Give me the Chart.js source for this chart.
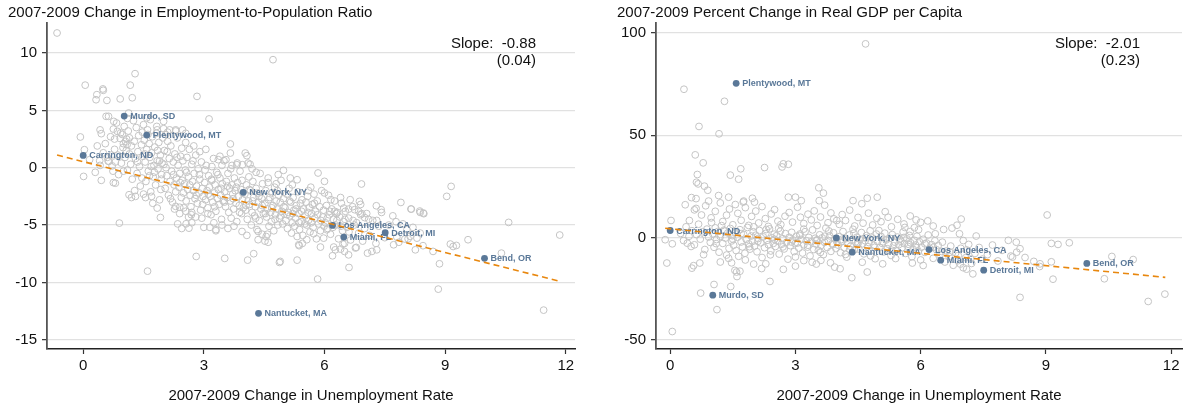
<!DOCTYPE html>
<html><head><meta charset="utf-8">
<script src="https://cdn.jsdelivr.net/npm/chart.js@4/dist/chart.umd.min.js"></script>
<style>
html,body{margin:0;padding:0;background:#fff;width:1187px;height:411px;overflow:hidden;}
#c1{position:absolute;left:0;top:0;}
#c2{position:absolute;left:590px;top:0;}
</style></head>
<body>
<canvas id="c1" width="590" height="411"></canvas>
<canvas id="c2" width="597" height="411"></canvas>
<script>
// ---------- DATA ----------
const leftTitle = "2007-2009 Change in Employment-to-Population Ratio";
const rightTitle = "2007-2009 Percent Change in Real GDP per Capita";
const xAxisTitle = "2007-2009 Change in Unemployment Rate";
const leftSlope = ["Slope:  -0.88", "(0.04)"];
const rightSlope = ["Slope:  -2.01", "(0.23)"];
const xTicks = [0, 3, 6, 9, 12];
const leftYTicks = [10, 5, 0, -5, -10, -15];
const rightYTicks = [100, 50, 0, -50];

const cityNames = ["Carrington, ND","Murdo, SD","Plentywood, MT","New York, NY","Nantucket, MA","Los Angeles, CA","Miami, FL","Detroit, MI","Bend, OR"];
const cityUnemp = [0.0, 1.02, 1.58, 3.98, 4.36, 6.2, 6.48, 7.51, 9.98];
const cityEmp   = [1.07, 4.5, 2.85, -2.15, -12.7, -5.03, -6.05, -5.67, -7.9];
const cityGdp   = [3.4, -28.2, 75.4, -0.2, -7.2, -5.9, -11.1, -16.0, -12.7];

const leftFit  = [[-0.65, 1.1], [11.85, -9.9]];
const rightFit = [[-0.12, 4.5], [11.86, -19.5]];

const leftGray = [
[-0.65,11.75],[4.72,9.42],[0.05,7.2],[1.29,8.2],[1.17,7.2],[0.49,6.87],[0.5,6.75],[0.34,6.37],[0.32,5.93],[0.59,5.87],[0.92,6.0],[1.22,6.1],[2.83,6.22],[3.13,4.25],[-0.07,2.68],[0.01,-0.76],[0.57,4.48],[0.63,4.48],[1.13,4.77],[0.42,3.3],[0.45,2.97],[0.75,3.37],[0.78,2.5],[0.92,2.55],[1.0,2.1],[1.05,2.3],
[1.5,3.75],[1.83,3.6],[2.0,4.04],[2.15,3.3],[2.3,3.3],[3.66,2.07],[3.66,1.28],[4.03,1.28],[4.07,1.05],[3.82,0.26],[4.98,-0.23],[5.32,-1.05],[0.75,-1.3],[0.8,-1.35],[0.16,0.7],[0.41,0.6],[0.62,0.58],[0.8,0.5],
[0.9,-4.83],[1.92,-4.34],[1.6,-9.02],[2.81,-7.74],[3.52,-7.91],[4.09,-8.06],[4.24,-7.5],[4.88,-8.26],[5.32,-8.06],
[2.35,-4.9],[2.45,-5.3],[2.7,-4.8],[3.0,-5.2],[3.3,-5.4],[3.95,-5.56],[4.07,-5.9],[4.35,-6.28],[4.35,-5.56],[4.52,-6.4],[4.55,-6.0],[4.58,-5.8],
[2.4,-4.0],[2.55,-3.8],[2.7,-3.9],
[9.15,-1.63],[9.04,-2.5],[6.92,-1.42],[6.0,-1.19],[5.84,-0.46],
[10.58,-4.77],[11.85,-5.87],[11.45,-12.42],[8.83,-10.59],[8.86,-8.38],[10.4,-7.45],[9.57,-6.28],[9.13,-6.66],[9.2,-6.87],[9.28,-6.78],[8.7,-7.3],[8.26,-7.16],[8.38,-3.9],[8.47,-4.01],[8.15,-3.6],[7.9,-3.03],[6.87,-2.94],[6.61,-8.7],[5.83,-9.71],
[6.2,-7.68],[6.4,-7.1],[6.5,-7.3],[6.6,-7.6],[6.79,-6.95],[7.07,-7.45],[7.18,-7.3],[7.3,-7.16],[7.72,-6.72],[8.0,-6.22],[8.08,-6.2],[8.3,-6.14],[5.36,-6.72],[5.56,-6.28],[4.9,-8.17],
[6.64,-2.79],[6.16,-2.79],[7.29,-3.32],[7.41,-3.66],[8.37,-3.78],[8.46,-3.95],[8.16,-3.61],[7.78,-4.71],[8.05,-5.41],[8.13,-5.99],[8.38,-5.7],[7.8,-6.05],
[6.23,-6.92],[6.27,-7.16],[6.46,-6.66],[6.5,-6.6],[5.9,-6.92],[5.73,-5.76],[5.98,-6.14],[6.06,-5.41],[6.77,-7.0],
[6.9,-4.1],[7.0,-4.35],[7.1,-4.5],[7.3,-4.6],[6.75,-3.66],[6.85,-3.81],[6.93,-4.01],[6.48,-3.52],[6.6,-3.61],[6.25,-3.8],[6.3,-4.0],
[0.03,1.57],[0.76,4.04],[0.85,3.17],[0.93,3.03],[1.08,2.5],[1.09,2.0],[1.58,4.34],[1.67,4.19],
[1.84,3.3],[2.0,3.4],[2.1,3.1],[2.3,3.2],[2.47,3.3],[2.55,3.0],
[3.36,0.7],[3.5,0.61],[3.83,0.41],[3.96,0.26],[4.1,0.4],[4.2,-0.1],
[1.14,-2.36],[1.2,-2.6],[1.3,-2.5],[1.5,-2.3],[1.7,-2.5],[1.84,-3.52],[2.3,-3.37],[2.4,-3.45],[2.5,-3.5],[2.56,-4.89],[2.63,-5.27],[5.37,-6.8],[3.15,-5.2],[3.3,-5.5],[3.45,-5.0],[3.6,-5.3],
[2.69,-4.1],[2.8,-4.3],[3.1,-4.0],
[0.35,1.9],[0.42,0.2],[0.5,1.3],[0.55,2.1],[0.6,0.9],[0.64,0.55],[0.68,2.7],[0.72,0.16],[0.74,-0.3],[0.78,1.6],[0.83,3.9],[0.86,1.1],[0.88,-0.6],[0.95,0.4],[0.97,2.9],[0.99,1.75],[0.3,-0.4],[0.45,-1.1],
[1.02,3.6],[1.04,0.9],[1.07,1.5],[1.1,-0.2],[1.12,3.2],[1.15,2.6],[1.18,0.3],[1.2,1.9],[1.22,-1.0],[1.25,4.1],[1.27,2.3],[1.3,0.8],[1.32,3.5],[1.34,-0.5],[1.36,1.4],[1.38,2.8],[1.4,0.1],[1.42,-1.6],[1.45,2.0],[1.47,3.1],[1.49,1.0],[1.1,4.3],[1.28,-2.0],[1.46,-0.9],
[1.52,2.4],[1.54,0.5],[1.56,-1.2],[1.58,1.6],[1.6,3.3],[1.62,-0.3],[1.64,2.1],[1.66,0.9],[1.68,-2.1],[1.7,1.3],[1.72,2.7],[1.74,-0.8],[1.76,0.2],[1.78,1.8],[1.8,-1.5],[1.82,3.0],[1.84,0.6],[1.86,-0.1],[1.88,2.2],[1.9,-2.8],[1.92,1.1],[1.94,-1.0],[1.96,0.4],[1.98,2.6],[1.55,-2.6],[1.73,-3.1],[1.95,-0.6],
[2.02,1.5],[2.04,-1.8],[2.06,0.0],[2.08,-0.7],[2.1,2.3],[2.12,-2.4],[2.14,0.8],[2.16,-1.2],[2.18,1.9],[2.2,-0.3],[2.22,-3.0],[2.24,0.5],[2.26,-1.5],[2.28,1.2],[2.3,-2.1],[2.32,-0.9],[2.34,2.6],[2.36,0.2],[2.38,-1.7],[2.4,-0.5],[2.42,1.0],[2.44,-2.6],[2.46,-1.1],[2.48,0.6],[2.05,2.9],[2.27,-3.6],[2.45,1.7],
[2.52,-1.4],[2.54,-0.2],[2.56,-2.9],[2.58,0.9],[2.6,-1.9],[2.62,-0.8],[2.64,1.6],[2.66,-2.4],[2.68,-3.4],[2.7,0.3],[2.72,-1.2],[2.74,-2.0],[2.76,-0.5],[2.78,-2.7],[2.8,1.1],[2.82,-1.6],[2.84,-3.1],[2.86,-0.1],[2.88,-2.2],[2.9,-1.0],[2.92,-3.7],[2.94,0.5],[2.96,-1.8],[2.98,-2.5],[2.55,2.2],[2.75,1.9],[2.95,-4.4],[2.62,-4.3],
[3.02,-1.3],[3.04,-2.8],[3.06,0.2],[3.08,-2.0],[3.1,-3.5],[3.12,-0.7],[3.14,-1.7],[3.16,-2.5],[3.18,-4.1],[3.2,-1.1],[3.22,-3.0],[3.24,0.8],[3.26,-2.2],[3.28,-1.5],[3.3,-3.8],[3.32,-0.4],[3.34,-2.7],[3.36,-1.9],[3.38,-3.2],[3.4,-0.9],[3.42,-2.4],[3.44,-4.5],[3.46,-1.4],[3.48,-2.9],[3.05,1.6],[3.25,-4.8],[3.45,0.2],
[3.52,-2.1],[3.54,-3.4],[3.56,-1.2],[3.58,-2.6],[3.6,-0.5],[3.62,-3.9],[3.64,-1.8],[3.66,-2.9],[3.68,-4.4],[3.7,-1.5],[3.72,-2.3],[3.74,-3.6],[3.76,-0.9],[3.78,-2.0],[3.8,-3.1],[3.82,-4.7],[3.84,-1.3],[3.86,-2.5],[3.88,-3.3],[3.9,-0.3],[3.92,-1.9],[3.94,-4.0],[3.96,-2.8],[3.98,-3.5],[3.55,0.7],[3.75,-5.1],[3.95,-1.1],
[4.02,-2.3],[4.04,-3.7],[4.06,-1.5],[4.08,-4.5],[4.1,-2.9],[4.12,-0.8],[4.14,-3.2],[4.16,-2.0],[4.18,-5.0],[4.2,-3.9],[4.22,-1.2],[4.24,-2.6],[4.26,-4.2],[4.28,-3.4],[4.3,-1.8],[4.32,-5.4],[4.34,-2.2],[4.36,-3.0],[4.38,-4.6],[4.4,-0.5],[4.42,-3.6],[4.44,-2.7],[4.46,-1.4],[4.48,-4.0],[4.15,0.3],[4.45,-5.8],
[4.52,-3.1],[4.54,-2.0],[4.56,-4.3],[4.58,-3.6],[4.6,-1.3],[4.62,-5.1],[4.64,-2.6],[4.66,-3.9],[4.68,-4.7],[4.7,-2.2],[4.72,-3.3],[4.74,-5.5],[4.76,-1.7],[4.78,-4.1],[4.8,-2.9],[4.82,-3.6],[4.84,-5.0],[4.86,-2.4],[4.88,-4.4],[4.9,-3.0],[4.92,-1.1],[4.94,-3.8],[4.96,-4.9],[4.98,-2.7],[4.6,-6.5],[4.85,-0.6],
[5.02,-3.5],[5.04,-4.6],[5.06,-2.3],[5.08,-5.3],[5.1,-3.9],[5.12,-1.8],[5.14,-4.2],[5.16,-3.0],[5.18,-5.7],[5.2,-4.8],[5.22,-2.6],[5.24,-3.7],[5.26,-5.1],[5.28,-4.4],[5.3,-3.3],[5.32,-6.0],[5.34,-2.1],[5.36,-4.0],[5.38,-5.4],[5.4,-3.1],[5.42,-4.7],[5.44,-2.8],[5.46,-5.9],[5.48,-3.6],[5.15,-0.9],[5.45,-6.6],
[5.52,-4.2],[5.54,-3.0],[5.56,-5.0],[5.58,-2.5],[5.6,-4.6],[5.62,-3.5],[5.64,-5.6],[5.66,-1.7],[5.68,-4.0],[5.7,-3.2],[5.72,-5.2],[5.74,-2.3],[5.76,-4.4],[5.78,-3.8],[5.8,-6.2],[5.82,-2.9],[5.85,-4.9],[5.88,-3.4],[5.9,-5.5],[5.93,-2.0],[5.96,-4.3],[5.98,-3.7],
[6.02,-4.8],[6.05,-3.3],[6.08,-5.3],[6.1,-2.4],[6.12,-4.1],[6.15,-5.8],[6.18,-3.6],[6.22,-4.5],[6.25,-2.9],[6.28,-5.0],[6.32,-3.9],[6.35,-6.2],[6.38,-4.3],[6.42,-3.1],[6.45,-5.5],[6.48,-4.7],
[6.52,-3.8],[6.56,-5.2],[6.6,-4.4],[6.65,-6.3],[6.7,-3.4],[6.74,-5.0],[6.8,-4.8],[6.85,-5.7],[6.9,-3.2],[6.95,-6.4],[7.0,-5.3],[7.05,-4.0],[7.12,-5.9],[7.2,-4.6],[7.28,-6.6],[7.35,-5.1],[7.42,-3.9],[7.5,-6.1],
[7.6,-5.0],[7.7,-4.2],[7.85,-6.5],[8.2,-5.2],[8.45,-6.8],[7.95,-4.9],
[1.53,1.2],[1.61,2.9],[1.69,0.1],[1.77,-0.4],[1.85,1.5],[1.93,-1.9],[2.01,0.3],[2.09,1.4],[2.17,-2.7],[2.25,-0.6],[2.33,0.9],[2.41,-1.3],[2.49,-2.2],[2.57,-0.4],[2.65,-1.5],[2.73,0.6],[2.81,-2.4],[2.89,-0.6],[2.97,-3.2],[3.03,-0.2],[3.11,-2.3],[3.19,-1.0],[3.27,-3.4],[3.35,-0.6],[3.43,-1.8],[3.51,-3.0],[3.59,-1.6],[3.67,-0.1],[3.73,-2.7],[3.81,-1.7],[3.89,-3.9],[3.97,-2.2],[4.05,-3.3],[4.13,-1.9],[4.21,-2.9],[4.29,-4.4],[4.37,-2.5],[4.45,-3.3],[4.53,-4.0],[4.61,-2.8],[4.69,-3.5],[4.77,-4.5],[4.83,-2.0],[4.91,-4.2],[4.99,-3.4],[5.07,-4.1],[5.13,-2.9],[5.21,-4.0],[5.29,-3.6],[5.37,-4.8],[5.43,-3.8],[5.51,-4.9],[5.59,-3.9],[5.67,-4.8],[5.75,-3.1],[5.83,-4.1],[5.91,-4.6],[5.99,-5.1],[6.07,-4.4],[6.13,-3.8],[6.21,-5.2],[6.31,-4.6],[6.41,-5.1],[6.51,-4.5],[6.61,-5.6],[6.71,-4.6],[3.2,0.1],[3.7,0.2],[4.3,-0.4],[4.6,-0.9],[2.9,1.4],[3.4,1.0],[4.8,-1.4],[5.2,-1.5],[5.6,-2.0],[6.0,-2.2],[6.4,-2.6],[1.35,0.5],[1.15,1.2],[1.0,-0.3],[0.7,1.1],[1.65,-0.7],[1.9,0.6]
];

const rightGray = [
[0.33,72.5],[1.3,66.6],[0.69,54.3],[1.17,50.7],[4.68,94.7],[0.6,40.4],[0.79,36.5],[0.65,30.8],[0.63,27.0],[0.67,26.2],[0.82,25.1],[0.9,23.1],[1.44,30.5],[1.64,28.5],[1.69,33.6],[2.26,34.2],[2.68,34.5],[2.71,36.0],[2.83,35.8],[3.56,24.3],[3.67,21.7],
[0.51,19.5],[0.62,19.0],[0.92,17.8],[1.16,20.5],[1.4,19.7],[1.76,17.8],[1.97,19.2],[2.83,19.7],[3.0,19.7],[3.14,18.0],[3.57,18.0],[4.38,18.0],[4.72,19.2],[4.96,19.7],[4.59,16.5],
[1.56,16.1],[1.75,17.3],[2.02,17.3],[0.36,16.0],[0.46,8.3],[0.02,8.3],[0.58,13.5],
[-0.12,-1.1],[0.05,-3.1],[-0.08,-12.5],[0.05,-46.0],[0.73,-27.2],[1.05,-23.0],[1.12,-35.3],[1.45,-24.0],[2.39,-21.5],[0.52,-15.0],[0.56,-13.8],[0.71,-12.5],[0.41,-2.8],[0.5,-4.4],[1.55,-16.1],[1.59,-16.9],[1.67,-16.5],[1.6,-19.1],[1.47,-12.4],[2.19,-15.2],[3.0,-14.0],[3.4,-12.1],[3.61,-11.2],[3.94,-14.5],[4.35,-19.7],[4.72,-16.9],
[4.07,-15.3],[5.09,-12.9],[6.06,-13.7],[2.29,-12.9],[2.71,-15.6],[3.5,-13.0],[3.84,-12.4],[3.99,8.3],
[9.03,11.0],[9.13,-2.9],[9.29,-3.4],[9.56,-2.6],[8.38,-29.3],[9.17,-20.4],[10.4,-20.2],[10.58,-9.3],[11.09,-10.8],[11.45,-31.3],[11.85,-27.7],[9.13,-11.9],[8.85,-14.2],[8.71,-11.7],[8.29,-2.3],[8.38,-5.5],[8.16,-9.1],[8.2,-9.6],[7.33,0.7],[7.25,-17.8],[6.97,9.0],[6.87,6.0],[6.93,1.8],[7.02,-1.5],[6.35,1.8],[6.17,8.1],[5.89,8.6],[5.22,9.9],[8.86,-12.9],
[0.62,14.2],[0.75,11.0],[0.85,15.5],[0.98,9.6],[1.08,12.8],[1.2,16.9],[1.26,7.8],[1.35,10.9],[1.42,13.9],[1.5,6.2],[1.62,11.8],[1.7,8.4],[1.8,14.6],[1.88,5.9],[1.95,10.3],[2.05,12.9],[2.12,7.1],[2.2,15.1],[2.28,9.2],[2.35,5.4],[2.42,11.5],[2.5,13.6],[2.58,8.0],[2.65,6.3],[2.75,10.4],[2.85,12.2],[2.93,7.5],[3.05,14.8],[3.12,9.9],[3.2,6.8],[3.3,11.4],[3.38,8.6],[3.45,13.0],[3.52,5.9],[3.6,10.0],[3.7,15.8],[3.78,7.2],[3.85,12.0],[3.92,9.1],[4.05,6.4],[4.12,11.2],[4.2,8.3],[4.3,13.4],[4.42,5.6],[4.5,9.8],[4.62,7.0],[4.75,11.9],[4.85,6.1],[4.95,9.4],[5.05,7.7],[5.15,12.6],[5.3,5.2],[5.45,8.9],[5.6,6.6],[5.75,10.5],[5.85,4.8],[6.0,7.4],[6.3,5.6],[6.55,3.9],[6.75,4.6],
[0.25,2.0],[0.32,-1.5],[0.38,5.2],[0.45,0.6],[0.52,3.3],[0.58,-3.6],[0.63,1.4],[0.68,6.5],[0.72,-0.8],[0.78,2.8],[0.83,-5.9],[0.88,4.1],[0.92,0.2],[0.96,-2.4],[0.99,7.3],
[1.02,1.8],[1.05,-4.8],[1.08,4.7],[1.11,-1.0],[1.14,2.9],[1.17,-7.2],[1.2,0.5],[1.23,5.8],[1.26,-2.9],[1.29,3.6],[1.32,-0.3],[1.35,-8.6],[1.38,2.2],[1.41,-5.3],[1.44,4.4],[1.47,-1.7],[1.49,0.9],
[1.52,-3.8],[1.55,2.6],[1.58,-6.4],[1.61,0.1],[1.64,-9.2],[1.67,3.8],[1.7,-2.2],[1.73,-4.6],[1.76,1.5],[1.79,-7.7],[1.82,-0.9],[1.85,4.9],[1.88,-3.1],[1.91,-5.7],[1.94,0.7],[1.97,-1.9],[1.99,2.8],
[2.02,-4.2],[2.05,1.1],[2.08,-7.0],[2.11,-0.5],[2.14,3.4],[2.17,-2.6],[2.2,-9.8],[2.23,0.3],[2.26,-5.0],[2.29,2.0],[2.32,-1.4],[2.35,-3.5],[2.38,4.2],[2.41,-6.6],[2.44,-0.2],[2.47,-2.9],[2.49,1.6],
[2.52,-4.4],[2.55,0.9],[2.58,-1.8],[2.61,-8.1],[2.64,3.1],[2.67,-3.3],[2.7,-0.6],[2.73,-5.6],[2.76,1.9],[2.79,-2.3],[2.82,-10.6],[2.85,0.1],[2.88,-4.0],[2.91,2.5],[2.94,-1.2],[2.97,-6.9],[2.99,-3.0],
[3.02,0.6],[3.05,-2.7],[3.08,-5.2],[3.11,1.7],[3.14,-0.9],[3.17,-7.6],[3.2,-3.6],[3.23,2.8],[3.26,-1.6],[3.29,-4.7],[3.32,0.0],[3.35,-9.0],[3.38,-2.1],[3.41,3.7],[3.44,-5.9],[3.47,-0.4],[3.49,-3.2],
[3.52,-1.1],[3.55,-6.3],[3.58,1.3],[3.61,-3.9],[3.64,-0.2],[3.67,-8.4],[3.7,-2.4],[3.73,4.6],[3.76,-4.9],[3.79,-1.5],[3.82,0.8],[3.85,-6.8],[3.88,-3.0],[3.91,2.3],[3.94,-0.7],[3.97,-5.4],[3.99,-2.0],
[4.02,-3.7],[4.05,0.4],[4.08,-7.4],[4.11,-1.8],[4.14,2.9],[4.17,-5.0],[4.2,-0.6],[4.23,-9.6],[4.26,-2.8],[4.29,1.2],[4.32,-4.3],[4.35,-1.3],[4.38,4.0],[4.41,-6.1],[4.44,-2.2],[4.47,0.1],[4.49,-3.5],
[4.52,-5.7],[4.55,-0.9],[4.58,2.4],[4.61,-3.1],[4.64,-8.0],[4.67,-1.6],[4.7,0.9],[4.73,-4.5],[4.76,-2.5],[4.79,3.3],[4.82,-6.5],[4.85,-0.3],[4.88,-3.8],[4.91,-10.4],[4.94,1.7],[4.97,-2.0],
[5.02,-4.9],[5.05,0.5],[5.08,-2.9],[5.11,-7.1],[5.14,2.1],[5.17,-1.2],[5.2,-5.5],[5.23,-3.3],[5.26,-0.4],[5.29,-8.8],[5.32,1.4],[5.35,-4.1],[5.38,-2.3],[5.41,-6.3],[5.44,0.2],[5.47,-3.6],
[5.52,-1.8],[5.55,-5.1],[5.58,2.7],[5.61,-3.0],[5.64,-7.8],[5.67,-0.7],[5.7,-4.4],[5.73,1.0],[5.76,-2.6],[5.79,-9.4],[5.82,-5.8],[5.85,-1.4],[5.88,-3.7],[5.91,0.6],[5.94,-6.7],[5.97,-2.1],
[6.02,-4.7],[6.06,-0.9],[6.1,-7.3],[6.14,-2.7],[6.18,1.2],[6.22,-5.4],[6.26,-3.5],[6.3,-10.2],[6.34,-1.6],[6.38,-6.0],[6.42,-3.9],[6.46,-8.5],
[6.52,-2.3],[6.58,-12.0],[6.62,-6.6],[6.68,-9.3],[6.72,-4.2],[6.78,-13.6],[6.84,-7.5],[6.9,-11.3],[6.96,-5.3],[7.02,-14.8],[7.08,-9.9],[7.15,-3.4],[7.22,-12.7],[7.3,-7.8],[7.4,-4.9],[7.48,-10.6],
[7.6,-8.4],[7.72,-3.7],[7.85,-11.5],[7.95,-6.3],[8.1,-1.4],[8.3,-7.2],[8.5,-9.8],
[6.95,-13.0],[7.1,-15.5],[7.2,-10.5],[5.62,4.9],[5.75,2.9],[5.95,3.8],
[1.1,-3.0],[1.3,3.1],[1.5,-0.8],[1.7,1.9],[1.9,-4.5],[2.1,-1.9],[2.3,3.9],[2.5,-0.9],[2.7,-4.6],[2.9,-2.2],[3.1,1.0],[3.3,-3.8],[3.5,-1.6],[3.7,0.6],[3.9,-3.4],[4.1,-1.0],[4.3,-5.8],[4.5,-2.6],[4.7,-0.2],[4.9,-4.8],[5.1,-2.1],[5.3,-6.2],[5.5,-0.9],[5.7,-3.3],[5.9,-5.0],[6.1,-3.1],[6.3,-4.8],[6.5,-6.8],[6.7,-7.2],[6.9,-8.8],[7.1,-6.1],[2.0,5.2],[2.6,4.5],[3.2,4.1],[3.8,3.2],[4.4,2.1],[5.0,3.4],[5.6,0.0],[1.4,-10.2],[1.8,-11.0],[2.4,-8.5],[3.0,-9.5],[3.6,-7.3],[4.2,-8.3],[4.8,-9.0],[5.4,-10.3],[6.0,-11.0],[0.8,-8.4],[1.2,-12.0],[2.0,-13.0],[3.2,-11.3],[4.6,-12.1],[5.8,-12.5]
];

// ---------- STYLE ----------
const FONT = "'Liberation Sans', Arial, Helvetica, sans-serif";
const GRAY = '#c4c4c4';
const CITY = '#5a7898';
const ORANGE = '#e8870e';
Chart.defaults.font.family = FONT;
Chart.defaults.color = '#111';

const toPts = arr => arr.map(p => ({x: p[0], y: p[1]}));

const textPlugin = {
  id: 'texts',
  afterDatasetDraw(chart, args, opts) {
    if (args.index !== 1) return;
    const ctx = chart.ctx, xs = chart.scales.x, ys = chart.scales.y;
    ctx.save();
    ctx.font = 'bold 9px ' + FONT;
    ctx.fillStyle = CITY;
    ctx.textBaseline = 'middle';
    ctx.textAlign = 'left';
    chart.data.datasets[1].data.forEach((p, i) => {
      ctx.fillText(cityNames[i], xs.getPixelForValue(p.x) + 6, ys.getPixelForValue(p.y) + 0.5);
    });
    ctx.restore();
  },
  afterDraw(chart, args, opts) {
    const ctx = chart.ctx, ca = chart.chartArea;
    ctx.save();
    ctx.fillStyle = '#111';
    ctx.font = '15px ' + FONT;
    ctx.textBaseline = 'middle';
    ctx.textAlign = 'left';
    ctx.fillText(opts.title, ca.left - 39, 12.5);
    ctx.textAlign = 'right';
    ctx.fillText(opts.slope[0], ca.right - opts.slopeRight, 44);
    ctx.fillText(opts.slope[1], ca.right - opts.slopeRight, 61);
    ctx.restore();
  }
};

function makeChart(id, gray, cityY, fit, yTicks, yMin, yMax, xMin, xMax, yWidth, padRight, title, slope, slopeRight) {
  return new Chart(document.getElementById(id), {
    type: 'scatter',
    data: {
      datasets: [
        {data: toPts(gray), order: 3, pointRadius: 3.4, pointStyle: 'circle',
         backgroundColor: 'rgba(0,0,0,0)', borderColor: GRAY, pointBorderWidth: 1, borderWidth: 1},
        {data: cityUnemp.map((x, i) => ({x: x, y: cityY[i]})), order: 2, pointRadius: 3.4,
         backgroundColor: CITY, borderColor: CITY, pointBorderWidth: 0},
        {data: toPts(fit), order: 1, showLine: true, pointRadius: 0, borderColor: ORANGE,
         borderWidth: 1.6, borderDash: [6, 4], fill: false}
      ]
    },
    options: {
      responsive: false, animation: false, devicePixelRatio: 1,
      layout: {padding: {left: 0, right: padRight, top: 23, bottom: 0}},
      plugins: {legend: {display: false}, tooltip: {enabled: false},
        texts: {title: title, slope: slope, slopeRight: slopeRight}},
      scales: {
        x: {type: 'linear', min: xMin, max: xMax,
          afterBuildTicks: s => { s.ticks = xTicks.map(v => ({value: v})); },
          afterFit: s => { s.height = 62; },
          grid: {drawOnChartArea: false, drawTicks: true, tickLength: 5, tickColor: '#333', tickWidth: 1.2},
          border: {display: true, color: '#222', width: 1.5},
          ticks: {font: {size: 15}, color: '#111', padding: 3, maxRotation: 0},
          title: {display: true, text: xAxisTitle, font: {size: 15}, color: '#111', padding: {top: 0, bottom: 6}}
        },
        y: {type: 'linear', min: yMin, max: yMax,
          afterBuildTicks: s => { s.ticks = yTicks.map(v => ({value: v})); },
          afterFit: s => { s.width = yWidth; },
          grid: {color: '#e1e1e1', lineWidth: 1.3, drawTicks: true, tickLength: 5, tickColor: '#333', tickWidth: 1.2},
          border: {display: true, color: '#555', width: 1.8},
          ticks: {font: {size: 15}, color: '#111', padding: 5}
        }
      }
    },
    plugins: [textPlugin]
  });
}

makeChart('c1', leftGray, cityEmp, leftFit, leftYTicks, -15.81, 12.62, -0.9, 12.23, 47, 15, leftTitle, leftSlope, 39);
makeChart('c2', rightGray, cityGdp, rightFit, rightYTicks, -54.55, 104.9, -0.34, 12.26, 66, 2, rightTitle, rightSlope, 42);
</script>
</body></html>
